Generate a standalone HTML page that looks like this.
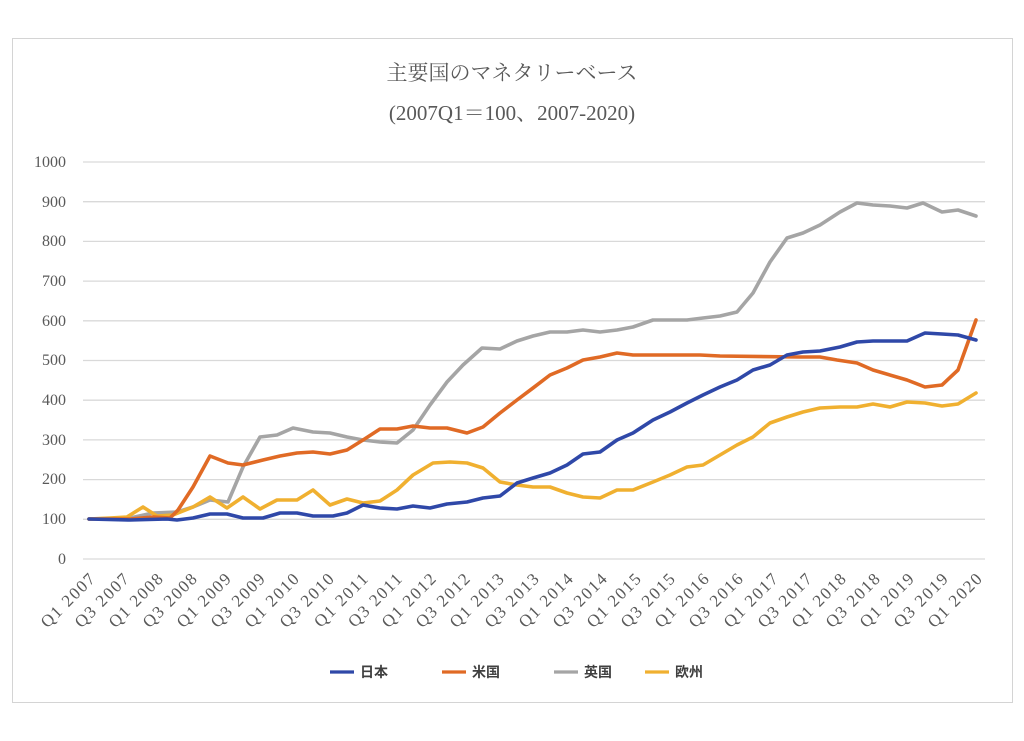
<!DOCTYPE html>
<html><head><meta charset="utf-8"><style>
html,body{margin:0;padding:0;background:#fff;}
</style></head><body>
<svg width="1024" height="736" xmlns="http://www.w3.org/2000/svg">
<rect x="0" y="0" width="1024" height="736" fill="#fff"/>
<rect x="12.5" y="38.5" width="1000" height="664" fill="#fff" stroke="#d4d4d4" stroke-width="1"/>
<g font-family="Liberation Serif, 'Noto Serif CJK SC', serif" fill="#595959" text-anchor="middle">
<text x="512" y="80" font-size="21">主要国のマネタリーベース</text>
<text x="512" y="120" font-size="21">(2007Q1＝100、2007-2020)</text>
</g>
<g stroke="#d9d9d9" stroke-width="1.3">
<line x1="83" x2="985" y1="162" y2="162"/><line x1="83" x2="985" y1="201.7" y2="201.7"/>
<line x1="83" x2="985" y1="241.4" y2="241.4"/><line x1="83" x2="985" y1="281.1" y2="281.1"/>
<line x1="83" x2="985" y1="320.8" y2="320.8"/><line x1="83" x2="985" y1="360.5" y2="360.5"/>
<line x1="83" x2="985" y1="400.2" y2="400.2"/><line x1="83" x2="985" y1="439.9" y2="439.9"/>
<line x1="83" x2="985" y1="479.6" y2="479.6"/><line x1="83" x2="985" y1="519.3" y2="519.3"/>
<line x1="83" x2="985" y1="559" y2="559"/>
</g>
<g font-family="Liberation Serif, serif" font-size="16" fill="#595959" text-anchor="end">
<text x="66" y="167">1000</text><text x="66" y="207">900</text><text x="66" y="246">800</text>
<text x="66" y="286">700</text><text x="66" y="326">600</text><text x="66" y="365">500</text>
<text x="66" y="405">400</text><text x="66" y="445">300</text><text x="66" y="484">200</text>
<text x="66" y="524">100</text><text x="66" y="564">0</text>
</g>
<g font-family="Liberation Serif, serif" font-size="17" letter-spacing="1.6" fill="#595959" text-anchor="end">
<text transform="translate(97,579) rotate(-45)">Q1 2007</text>
<text transform="translate(131,579) rotate(-45)">Q3 2007</text>
<text transform="translate(165,579) rotate(-45)">Q1 2008</text>
<text transform="translate(199,579) rotate(-45)">Q3 2008</text>
<text transform="translate(233,579) rotate(-45)">Q1 2009</text>
<text transform="translate(267,579) rotate(-45)">Q3 2009</text>
<text transform="translate(301,579) rotate(-45)">Q1 2010</text>
<text transform="translate(336,579) rotate(-45)">Q3 2010</text>
<text transform="translate(370,579) rotate(-45)">Q1 2011</text>
<text transform="translate(404,579) rotate(-45)">Q3 2011</text>
<text transform="translate(438,579) rotate(-45)">Q1 2012</text>
<text transform="translate(472,579) rotate(-45)">Q3 2012</text>
<text transform="translate(506,579) rotate(-45)">Q1 2013</text>
<text transform="translate(541,579) rotate(-45)">Q3 2013</text>
<text transform="translate(575,579) rotate(-45)">Q1 2014</text>
<text transform="translate(609,579) rotate(-45)">Q3 2014</text>
<text transform="translate(643,579) rotate(-45)">Q1 2015</text>
<text transform="translate(677,579) rotate(-45)">Q3 2015</text>
<text transform="translate(711,579) rotate(-45)">Q1 2016</text>
<text transform="translate(745,579) rotate(-45)">Q3 2016</text>
<text transform="translate(780,579) rotate(-45)">Q1 2017</text>
<text transform="translate(814,579) rotate(-45)">Q3 2017</text>
<text transform="translate(848,579) rotate(-45)">Q1 2018</text>
<text transform="translate(882,579) rotate(-45)">Q3 2018</text>
<text transform="translate(916,579) rotate(-45)">Q1 2019</text>
<text transform="translate(950,579) rotate(-45)">Q3 2019</text>
<text transform="translate(984,579) rotate(-45)">Q1 2020</text>
</g>
<g fill="none" stroke-width="3.6" stroke-linejoin="round" stroke-linecap="round">
<polyline stroke="#a5a5a5" points="89,519 130,518 153,513 177,512 193,507 210,500 228,502 243,467 260,437 277,435 293,428 313,432 330,433 347,437 363,440 380,442 397,443 413,430 430,405 447,382 463,365 482,348 500,349 517,341 533,336 550,332 567,332 583,330 600,332 617,330 633,327 653,320 670,320 687,320 703,318 720,316 737,312 753,293 770,262 787,238 803,233 820,225 840,212 857,203 873,205 890,206 907,208 923,203 942,212 958,210 976,216"/>
<polyline stroke="#f0b030" points="89,519 110,518 127,517 143,507 157,516 173,515 193,507 210,497 227,508 243,497 260,509 277,500 297,500 313,490 330,505 347,499 363,503 380,501 397,490 413,475 433,463 450,462 467,463 483,468 500,482 517,485 533,487 550,487 567,493 583,497 600,498 617,490 633,490 653,482 670,475 687,467 703,465 720,455 737,445 753,437 770,423 787,417 803,412 820,408 840,407 857,407 873,404 890,407 907,402 925,403 942,406 958,404 976,393"/>
<polyline stroke="#e06a25" points="89,519 130,519 153,517 170,518 178,510 193,487 210,456 228,463 243,465 263,460 280,456 297,453 313,452 330,454 347,450 363,440 380,429 397,429 413,426 430,428 447,428 467,433 483,427 500,413 517,400 533,388 550,375 567,368 583,360 600,357 617,353 633,355 700,355 720,356 800,357 820,357 837,360 857,363 873,370 907,380 925,387 942,385 958,370 976,320"/>
<polyline stroke="#2f48a8" points="89,519 130,520 167,519 177,520 193,518 210,514 227,514 243,518 263,518 280,513 297,513 313,516 333,516 347,513 363,505 380,508 397,509 413,506 430,508 447,504 467,502 483,498 500,496 517,483 533,478 550,473 567,465 583,454 600,452 617,440 633,433 653,420 670,412 687,403 703,395 720,387 737,380 753,370 770,365 787,355 803,352 820,351 840,347 857,342 873,341 907,341 925,333 942,334 958,335 976,340"/>
</g>
<g font-family="Liberation Sans, 'Noto Sans CJK JP', sans-serif" font-size="14" font-weight="bold" fill="#404040">
<line x1="330" x2="354" y1="672" y2="672" stroke="#2f48a8" stroke-width="3.2"/><text x="360" y="677">日本</text>
<line x1="442" x2="466" y1="672" y2="672" stroke="#e06a25" stroke-width="3.2"/><text x="472" y="677">米国</text>
<line x1="554" x2="578" y1="672" y2="672" stroke="#a5a5a5" stroke-width="3.2"/><text x="584" y="677">英国</text>
<line x1="645" x2="669" y1="672" y2="672" stroke="#f0b030" stroke-width="3.2"/><text x="675" y="677">欧州</text>
</g>
</svg>
</body></html>
